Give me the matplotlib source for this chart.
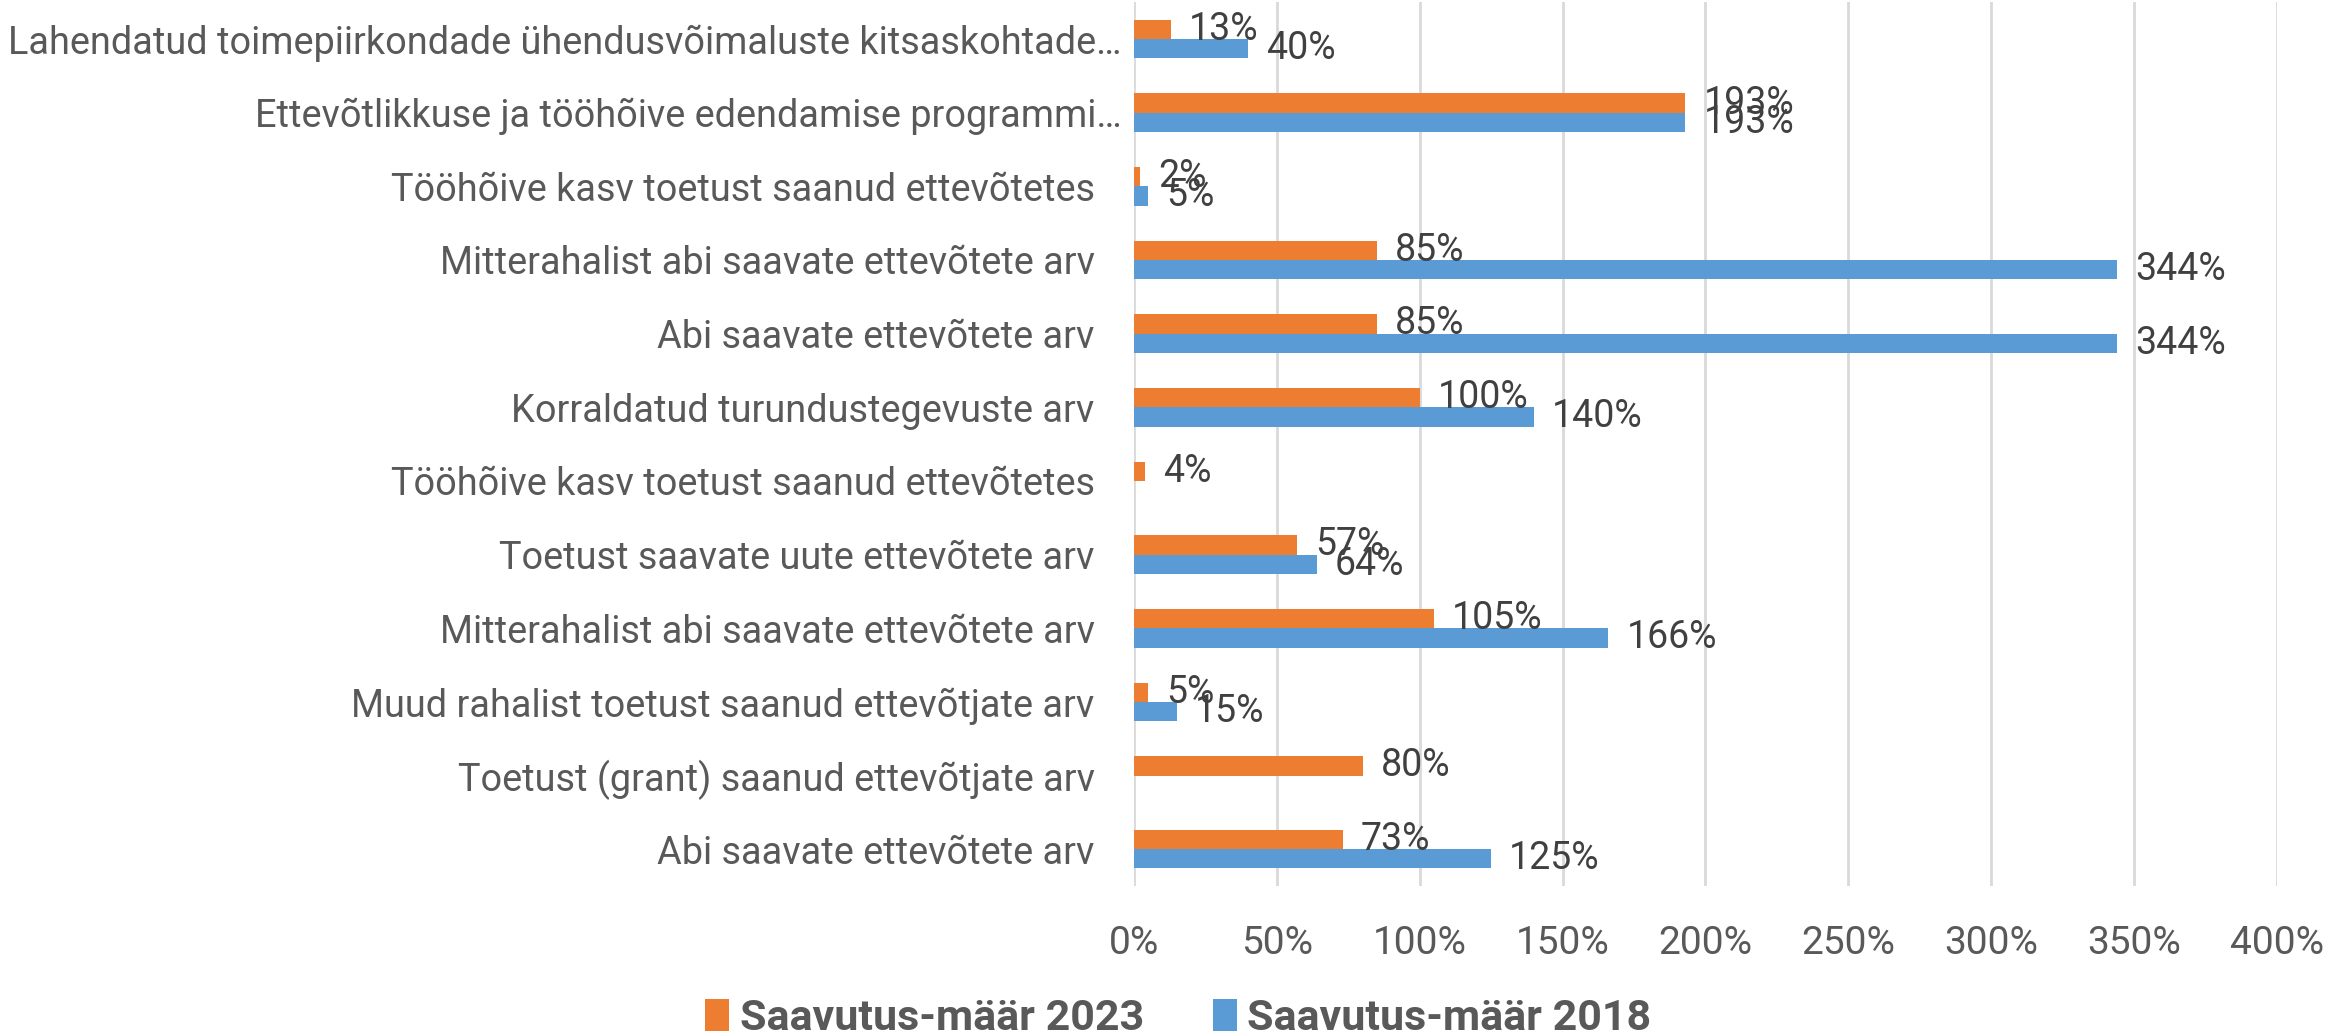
import matplotlib
matplotlib.use("Agg")
import matplotlib.pyplot as plt
from matplotlib import font_manager
from matplotlib.patches import Patch
from matplotlib.transforms import ScaledTranslation
import numpy as np

# data, top row first
categories = [
    "Lahendatud toimepiirkondade ühendusvõimaluste kitsaskohtade…",
    "Ettevõtlikkuse ja tööhõive edendamise programmi…",
    "Tööhõive kasv toetust saanud ettevõtetes",
    "Mitterahalist abi saavate ettevõtete arv",
    "Abi saavate ettevõtete arv",
    "Korraldatud turundustegevuste arv",
    "Tööhõive kasv toetust saanud ettevõtetes",
    "Toetust saavate uute ettevõtete arv",
    "Mitterahalist abi saavate ettevõtete arv",
    "Muud rahalist toetust saanud ettevõtjate arv",
    "Toetust (grant) saanud ettevõtjate arv",
    "Abi saavate ettevõtete arv",
]
rate_2023 = [13, 193, 2, 85, 85, 100, 4, 57, 105, 5, 80, 73]
rate_2018 = [40, 193, 5, 344, 344, 140, None, 64, 166, 15, None, 125]
series_names = ["Saavutus-määr 2023", "Saavutus-määr 2018"]
x_ticks = [0, 50, 100, 150, 200, 250, 300, 350, 400]

ORANGE = "#ED7D31"
BLUE = "#5B9BD5"
TEXT = "#595959"
LABEL = "#404040"

installed = {f.name for f in font_manager.fontManager.ttflist}
if "Liberation Sans Narrow" in installed:
    fam = ["Liberation Sans Narrow", "DejaVu Sans"]
    sizes = dict(cat=33, lab=28, tick=30, leg=34)
else:
    fam = ["Roboto", "DejaVu Sans"]
    sizes = dict(cat=27.3, lab=27, tick=28, leg=31)
plt.rcParams["font.family"] = fam

fig = plt.figure(figsize=(23.43, 10.36), dpi=100)
ax = fig.add_axes([0.4840, 0.1448, 0.4878, 0.8531])

y = np.arange(len(categories))
h = 0.262
w23 = [np.nan if v is None else v for v in rate_2023]
w18 = [np.nan if v is None else v for v in rate_2018]
b23 = ax.barh(y - h / 2, w23, height=h, color=ORANGE, zorder=3)
b18 = ax.barh(y + h / 2, w18, height=h, color=BLUE, zorder=3)

ax.bar_label(b23, labels=["" if v is None else f"{v}%" for v in rate_2023],
             padding=13, fontsize=sizes["lab"], color=LABEL)
ax.bar_label(b18, labels=["" if v is None else f"{v}%" for v in rate_2018],
             padding=13, fontsize=sizes["lab"], color=LABEL)

ax.set_ylim(len(categories) - 0.5, -0.5)
ax.set_xlim(0, 400)
ax.set_xticks(x_ticks)
ax.set_xticklabels([f"{t}%" for t in x_ticks], fontsize=sizes["tick"], color=TEXT)
ax.set_yticks(y)
ax.set_yticklabels(categories, fontsize=sizes["cat"], color=TEXT)
ax.tick_params(axis="x", length=0, pad=28)
ax.tick_params(axis="y", length=0, pad=9)

# Excel leaves a wider gap for the non-truncated labels
for lbl in ax.get_yticklabels():
    if not lbl.get_text().endswith("…"):
        lbl.set_transform(lbl.get_transform() + ScaledTranslation(-27 / 100, 0, fig.dpi_scale_trans))

ax.grid(axis="x", color="#D9D9D9", linewidth=2, zorder=0)
for s in ax.spines.values():
    s.set_visible(False)

handles = [Patch(facecolor=ORANGE), Patch(facecolor=BLUE)]
fig.legend(handles, series_names, loc="center", bbox_to_anchor=(0.503, 0.017),
           ncol=2, frameon=False, prop={"size": sizes["leg"], "weight": "bold"},
           handlelength=0.55, handleheight=0.75, handletextpad=0.25,
           columnspacing=1.6, labelcolor=TEXT)

fig.savefig("out.png", dpi=100)
